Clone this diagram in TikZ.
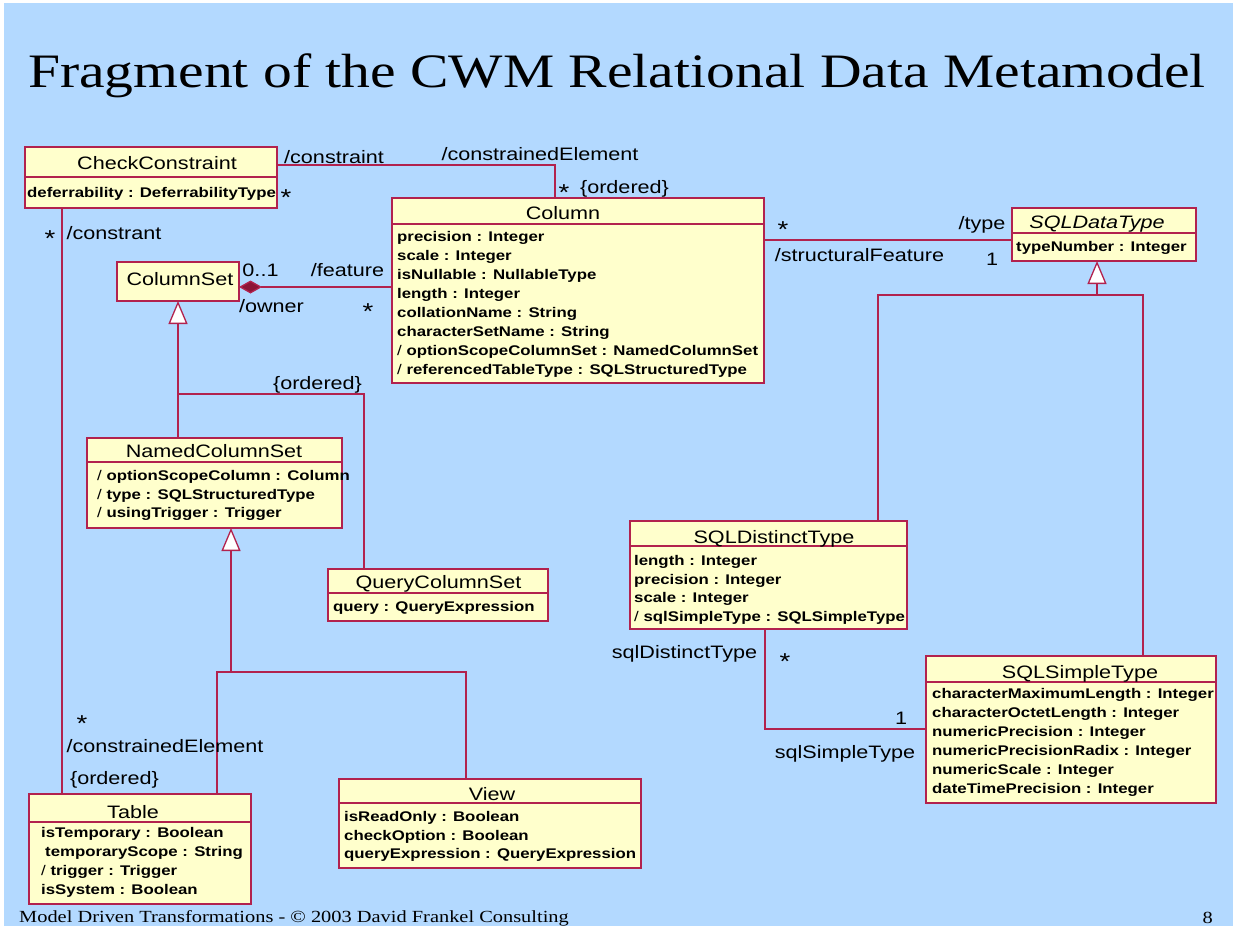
\documentclass[tikz,border=0pt]{standalone}
\usepackage{fontspec}
\setmainfont{Liberation Serif}[FakeStretch=1.2]
\newfontfamily\umlfont{Liberation Sans}[FakeStretch=1.2]
\usetikzlibrary{arrows.meta}

\definecolor{slideblue}{RGB}{179,217,255}
\definecolor{classfill}{RGB}{255,255,204}
\definecolor{umlline}{RGB}{178,34,78}
\definecolor{umldiamond}{RGB}{140,20,55}

% derived-attribute marker, set in the lighter weight
\newcommand\derived{{\mdseries/}\ }

% class box: name, left, top, right, bottom, divider y, title position, title text
\newcommand\umlbox[8]{%
  \node[classbox, minimum width={(#4-#2)*1pt}, minimum height={(#5-#3)*1pt}]
    (#1) at ({(#2+#4)/2},{(#3+#5)/2}) {};
  \draw[umledge] (#1.west |- 0,#6) -- (#1.east |- 0,#6);
  \node[classname] (#1-name) at (#7) {#8};
}
% attribute lines: class name, x, first line y, line step, list of lines
\newcommand\umlattrs[5]{%
  \foreach \txt [count=\k] in {#5} {
    \node[attrtext, anchor=west] (#1-attr\k) at (#2,{#3+(\k-1)*#4}) {\txt};
  }
}

\begin{document}
\begin{tikzpicture}[x=1pt, y=-1pt,
  classbox/.style={draw=umlline, fill=classfill, line width=1.4pt, inner sep=0pt, outer sep=0pt},
  umledge/.style={draw=umlline, line width=1.3pt},
  classname/.style={font=\umlfont\fontsize{18}{21}\selectfont, inner sep=0pt, text height=16pt, text depth=4pt},
  attrtext/.style={font=\umlfont\bfseries\fontsize{14}{17}\selectfont, inner sep=0pt, text height=12pt, text depth=3pt},
  role/.style={font=\umlfont\fontsize{18}{21}\selectfont, inner sep=0pt, text height=16pt, text depth=4pt},
  mult/.style={role, font=\umlfont\fontsize{23}{26}\selectfont, yshift=-7pt},
  composite/.style={umledge, {Diamond[length=23pt,width=13pt,fill=umldiamond]}-},
  generalize/.style={umledge, -{Triangle[length=23pt,width=19pt,fill=white]}},
]
% slide background
\path[use as bounding box] (0,0) rectangle (1233,926);
\fill[white] (0,0) rectangle (1233,926);
\fill[slideblue] (4,3) rectangle (1233,926);

% heading
\node[anchor=base west, inner sep=0pt, font=\fontsize{48}{56}\selectfont] (title) at (28,87)
  {Fragment of the CWM Relational Data Metamodel};

% classes
\umlbox{cc}{25}{147}{277}{208}{177}{157,163}{CheckConstraint}
\umlattrs{cc}{27}{193}{19}{deferrability : DeferrabilityType}

\umlbox{col}{392}{198}{764}{383}{224}{563,213}{Column}
\umlattrs{col}{397}{237}{19}{precision : Integer, scale : Integer, isNullable : NullableType,
  length : Integer, collationName : String, characterSetName : String,
  \derived optionScopeColumnSet : NamedColumnSet, \derived referencedTableType : SQLStructuredType}

\umlbox{sdt}{1012}{208}{1196}{261}{233}{1097,222}{\itshape SQLDataType}
\umlattrs{sdt}{1016}{247}{19}{typeNumber : Integer}

\node[classbox, minimum width=122pt, minimum height=39pt] (cs) at (178,281.5) {};
\node[classname] (cs-name) at (180,279) {ColumnSet};

\umlbox{ncs}{87}{438}{342}{528}{462}{214,451}{NamedColumnSet}
\umlattrs{ncs}{97}{476}{18.5}{\derived optionScopeColumn : Column, \derived type : SQLStructuredType,
  \derived usingTrigger : Trigger}

\umlbox{qcs}{328}{569}{548}{621}{593}{438.5,582}{QueryColumnSet}
\umlattrs{qcs}{333}{607}{19}{query : QueryExpression}

\umlbox{dis}{630}{521}{907}{629}{546}{774,537}{SQLDistinctType}
\umlattrs{dis}{634}{561}{18.7}{length : Integer, precision : Integer, scale : Integer,
  \derived sqlSimpleType : SQLSimpleType}

\umlbox{ssimp}{926}{656}{1216}{803}{682}{1080,672}{SQLSimpleType}
\umlattrs{ssimp}{932}{694}{19}{characterMaximumLength : Integer, characterOctetLength : Integer,
  numericPrecision : Integer, numericPrecisionRadix : Integer, numericScale : Integer,
  dateTimePrecision : Integer}

\umlbox{tab}{29}{794}{251}{904}{822}{133,812}{Table}
\umlattrs{tab}{41}{833}{19}{isTemporary : Boolean, \hspace*{4pt}temporaryScope : String,
  \derived trigger : Trigger, isSystem : Boolean}

\umlbox{view}{339}{779}{641}{868}{803}{492,794}{View}
\umlattrs{view}{344}{817}{18.5}{isReadOnly : Boolean, checkOption : Boolean,
  queryExpression : QueryExpression}

% associations
\draw[umledge] (cc.east |- 0,165) -| (555,0 |- col.north);
\draw[umledge] (62,0 |- cc.south) -- (62,0 |- tab.north);
\draw[composite] (cs.east |- 0,287) -- (col.west |- 0,287);
\draw[umledge] (col.east |- 0,240) -- (sdt.west |- 0,240);
\draw[umledge] (765,0 |- dis.south) |- (ssimp.west |- 0,729);

% generalizations
\coordinate (csj) at (178,394);
\draw[generalize] (csj) -- (178,0 |- cs.south);
\draw[umledge] (178,0 |- ncs.north) |- (csj) -| (364,0 |- qcs.north);

\coordinate (ncsj) at (231,672);
\draw[generalize] (ncsj) -- (231,0 |- ncs.south);
\draw[umledge] (217,0 |- tab.north) |- (ncsj) -| (466,0 |- view.north);

\coordinate (sdtj) at (1097,295);
\draw[generalize] (sdtj) -- (1097,0 |- sdt.south);
\draw[umledge] (878,0 |- dis.north) |- (sdtj) -| (1143,0 |- ssimp.north);

% role names and multiplicities
\node[role] (l-constraint) at (334,157) {/constraint};
\node[mult] (m-cc-col) at (286,192) {*};
\node[mult] (m-cc-tab) at (50,233) {*};
\node[role] (l-constrant) at (114,233) {/constrant};
\node[role] (l-constrained1) at (540,154) {/constrainedElement};
\node[mult] (m-col-cc) at (564,187) {*};
\node[role] (l-ordered1) at (624.5,187) {\{ordered\}};
\node[mult] (m-col-sdt) at (783,224) {*};
\node[role] (l-type) at (982,223) {/type};
\node[role] (l-structfeat) at (859.5,255) {/structuralFeature};
\node[role] (m-sdt) at (992,259) {1};
\node[role] (m-cs) at (260.5,270) {0..1};
\node[role] (l-feature) at (347.5,270) {/feature};
\node[role] (l-owner) at (271.5,306) {/owner};
\node[mult] (m-col-cs) at (368,306) {*};
\node[role] (l-ordered2) at (317.5,383) {\{ordered\}};
\node[role] (l-sqldistinct) at (684.5,652) {sqlDistinctType};
\node[mult] (m-dis) at (785,656) {*};
\node[role] (m-ssimp) at (901,718) {1};
\node[role] (l-sqlsimple) at (845,752) {sqlSimpleType};
\node[mult] (m-tab) at (82,718) {*};
\node[role] (l-constrained2) at (165,746) {/constrainedElement};
\node[role] (l-ordered3) at (114.5,778) {\{ordered\}};

% footer
\node[anchor=base west, inner sep=0pt, font=\fontsize{17}{20}\selectfont] (footer) at (19,922)
  {Model Driven Transformations - © 2003 David Frankel Consulting};
\node[anchor=base east, inner sep=0pt, font=\fontsize{17}{20}\selectfont] (pagenum) at (1213,923) {8};
\end{tikzpicture}
\end{document}
